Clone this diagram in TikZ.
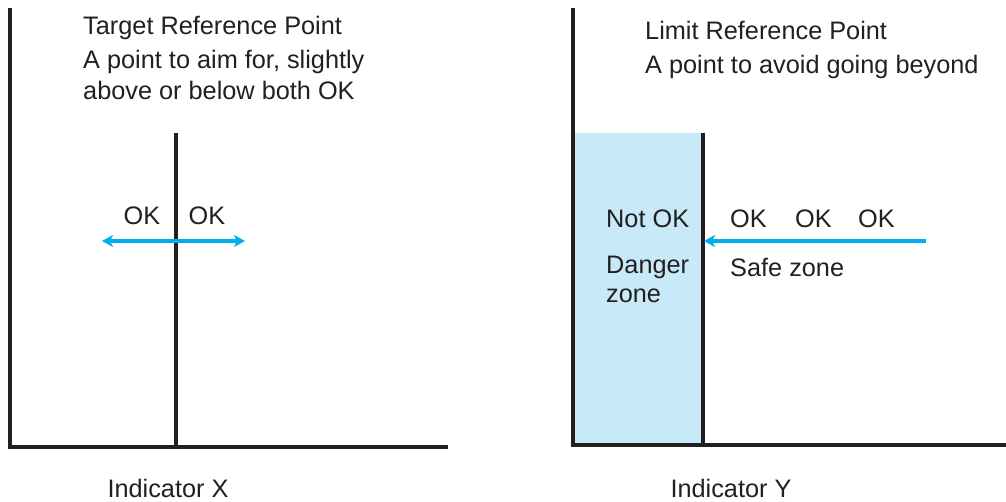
\documentclass[tikz,border=0pt]{standalone}
\usepackage{fontspec}
\setmainfont{Liberation Sans}
\usetikzlibrary{arrows.meta}
\definecolor{ink}{RGB}{35,31,32}
\definecolor{arrowblue}{RGB}{0,174,239}
\definecolor{zonefill}{RGB}{199,233,248}
\begin{document}
\begin{tikzpicture}[x=1pt,y=-1pt,
  axis/.style={draw=ink,line width=3.5pt},
  refline/.style={draw=ink,line width=3.5pt},
  okarrow/.style={draw=arrowblue,line width=3.5pt,-{Stealth[length=11pt,width=12pt,inset=3pt]}},
  lbl/.style={font=\fontsize{25.3}{30}\selectfont,text=ink,inner sep=0pt},
  lblleft/.style={lbl,anchor=west}]
\useasboundingbox (0,0) rectangle (1006,502);
% ---- left panel ----
\coordinate (LT) at (10,8);
\coordinate (LO) at (10,447);
\coordinate (LR) at (448,447);
\draw[axis] (LT) -- (LO) -- (LR);
\coordinate (MT) at (176,133);
\coordinate (MB) at (176,447);
\draw[refline] (MT) -- (MB);
\coordinate (AL) at (102,241);
\coordinate (AR) at (245,241);
\coordinate (AM) at (176,241);
\draw[okarrow] (AM) -- (AL);
\draw[okarrow] (AM) -- (AR);
\node[lbl] (ok1) at (142,216) {OK};
\node[lbl] (ok2) at (207,216) {OK};
\node[lblleft] (t1) at (83,28) {Target Reference Point};
\node[lblleft] (t2) at (83,62) {A point to aim for, slightly};
\node[lblleft] (t3) at (83,90) {above or below both OK};
\node[lbl] (ix) at (168,488) {Indicator X};
% ---- right panel ----
\fill[zonefill] (573,133) rectangle (703,445);
\coordinate (RT) at (573,8);
\coordinate (RO) at (573,445);
\coordinate (RR) at (1006,445);
\draw[axis] (RT) -- (RO) -- (RR);
\coordinate (LimT) at (703,133);
\coordinate (LimB) at (703,445);
\draw[refline] (LimT) -- (LimB);
\coordinate (BS) at (926,241);
\coordinate (BE) at (704,241);
\draw[okarrow] (BS) -- (BE);
\node[lblleft] (nok) at (606,219) {Not OK};
\node[lblleft] (dz1) at (606,267) {Danger};
\node[lblleft] (dz2) at (606,296) {zone};
\node[lblleft] (ok3) at (730,219) {OK};
\node[lblleft] (ok4) at (795,219) {OK};
\node[lblleft] (ok5) at (858,219) {OK};
\node[lblleft] (sz) at (730,267) {Safe zone};
\node[lblleft] (r1) at (645,30) {Limit Reference Point};
\node[lblleft] (r2) at (645,67) {A point to avoid going beyond};
\node[lbl] (iy) at (731,488) {Indicator Y};
\end{tikzpicture}
\end{document}
